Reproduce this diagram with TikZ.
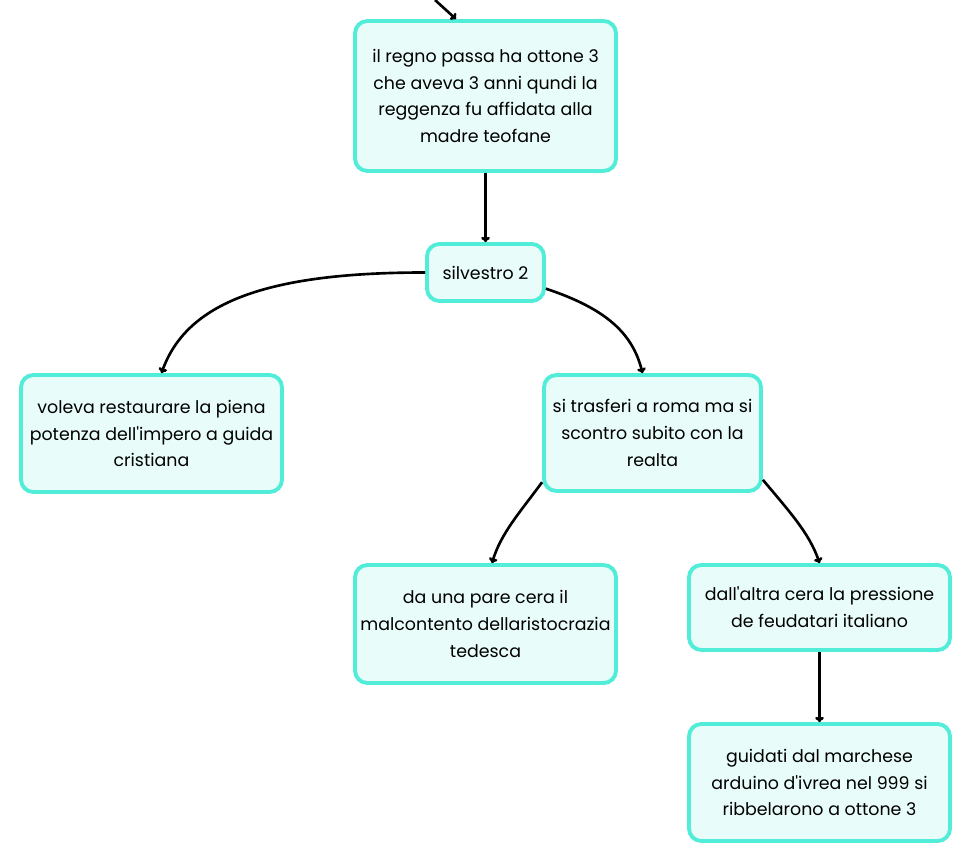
\documentclass[tikz,border=0pt]{standalone}
\usepackage{fontspec}
\setmainfont{Poppins}
\usetikzlibrary{arrows.meta}
\definecolor{boxline}{HTML}{52EDD8}
\definecolor{boxfill}{HTML}{E8FCF9}
\newcommand{\apos}{\textquotesingle}
\begin{document}
\begin{tikzpicture}[x=0.02cm, y=-0.02cm,
  topic/.style={draw=boxline, fill=boxfill, line width=2.2pt,
    rounded corners=7pt, align=center, inner sep=0pt,
    font=\fontsize{9.9}{15.3}\selectfont},
  link/.style={line width=1.5pt, -{To[length=3pt, width=5pt]}}]
  \useasboundingbox (0, 0) rectangle (972, 864);

  % Root
  \coordinate (in) at (435, 0);
  \node [topic, minimum width=5.22cm, minimum height=3cm] (root)
        at (485.5, 96) {il regno passa ha ottone 3\\che aveva 3 anni qundi la\\
        reggenza fu affidata alla\\madre teofane};
  \draw [link] (in) -- ([xshift=-0.59cm]root.north);

  % Silvestro
  \node [topic, minimum width=2.34cm, minimum height=1.14cm] (silv)
        at (485.5, 272.5) {silvestro 2};
  \draw [link] (root) -- (silv);

  % First level
  \node [topic, minimum width=5.22cm, minimum height=2.34cm] (voleva)
        at (151.5, 433.5) {voleva restaurare la piena\\
        potenza dell\apos impero a guida\\cristiana};
  \node [topic, minimum width=4.34cm, minimum height=2.32cm] (roma)
        at (652.5, 433) {si trasferi a roma ma si\\scontro subito con la\\realta};
  \draw [link] (silv.west)
        .. controls +(-160, 0) and +(25, -70) .. ([xshift=0.2cm]voleva.north);
  \draw [link] (silv.-15)
        .. controls +(60, 20) and +(-10, -40) .. ([xshift=-0.2cm]roma.north);

  % Second level
  \node [topic, minimum width=5.22cm, minimum height=2.36cm] (aristo)
        at (485.5, 624) {da una pare cera il\\malcontento dellaristocrazia\\tedesca};
  \node [topic, minimum width=5.22cm, minimum height=1.7cm] (feud)
        at (819.5, 607.5) {dall\apos altra cera la pressione\\de feudatari italiano};
  \draw [link] (roma.204)
        .. controls +(-22, 30) and +(9, -30) .. ([xshift=0.13cm]aristo.north);
  \draw [link] (roma.-23)
        .. controls +(25, 30) and +(-10, -30) .. (feud.north);

  % Arduino
  \node [topic, minimum width=5.22cm, minimum height=2.34cm] (arduino)
        at (819.5, 782.5) {guidati dal marchese\\arduino d\apos ivrea nel 999 si\\
        ribbelarono a ottone 3};
  \draw [link] (feud) -- (arduino);
\end{tikzpicture}
\end{document}
